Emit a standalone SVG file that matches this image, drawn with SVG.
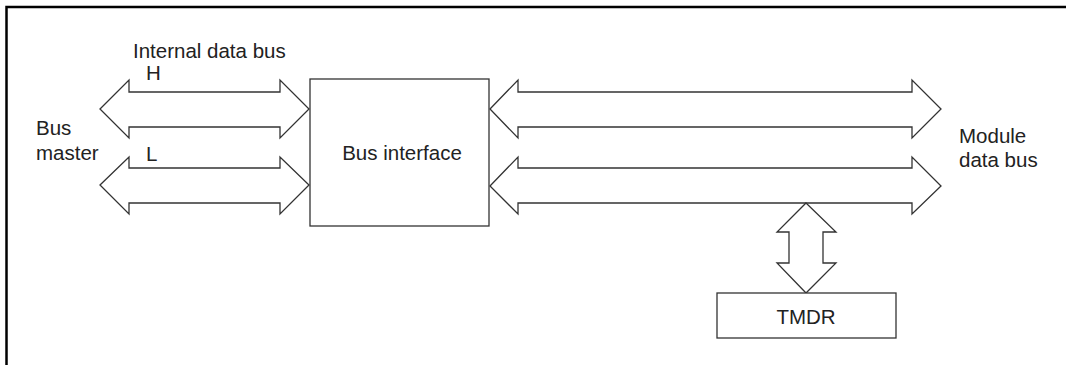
<svg xmlns="http://www.w3.org/2000/svg" width="1066" height="365" viewBox="0 0 1066 365">
<style>
.ln{fill:#fff;stroke:#333;stroke-width:1.3;stroke-linejoin:miter}
.t{font-family:"Liberation Sans",Arial,sans-serif;font-size:20.5px;fill:#222}
.fr{fill:none;stroke:#000;stroke-width:2.5}
</style>
<rect width="1066" height="365" fill="#fff"/>
<path class="fr" d="M6.5,365 V7 H1066"/>
<g id="labels">
<text class="t" x="133" y="58">Internal data bus</text>
<text class="t" x="146" y="80">H</text>
<text class="t" x="146" y="161">L</text>
<text class="t" x="36" y="135">Bus</text>
<text class="t" x="36" y="160">master</text>
<text class="t" x="959" y="143">Module</text>
<text class="t" x="959" y="167">data bus</text>
</g>
<g id="connectors">
<polygon class="ln" points="100,109 129,80 129,92 280,92 280,80 309,109 280,138 280,127 129,127 129,138"/>
<polygon class="ln" points="100,185 129,157 129,168 280,168 280,157 309,185 280,214 280,203 129,203 129,214"/>
<polygon class="ln" points="490,109 518,80 518,92 912,92 912,80 941,109 912,138 912,127 518,127 518,138"/>
<polygon class="ln" points="490,186 518,157 518,168 912,168 912,157 941,186 912,214 912,203 518,203 518,214"/>
<polygon class="ln" points="806,203 836,232 823,232 823,263 836,263 806,293 777,263 789,263 789,232 777,232"/>
</g>
<g id="bus-interface">
<rect class="ln" x="310" y="79" width="179" height="147"/>
<text class="t" x="402" y="160" text-anchor="middle">Bus interface</text>
</g>
<g id="tmdr">
<rect class="ln" x="717" y="293" width="179" height="45"/>
<text class="t" x="806" y="324" text-anchor="middle">TMDR</text>
</g>
</svg>
